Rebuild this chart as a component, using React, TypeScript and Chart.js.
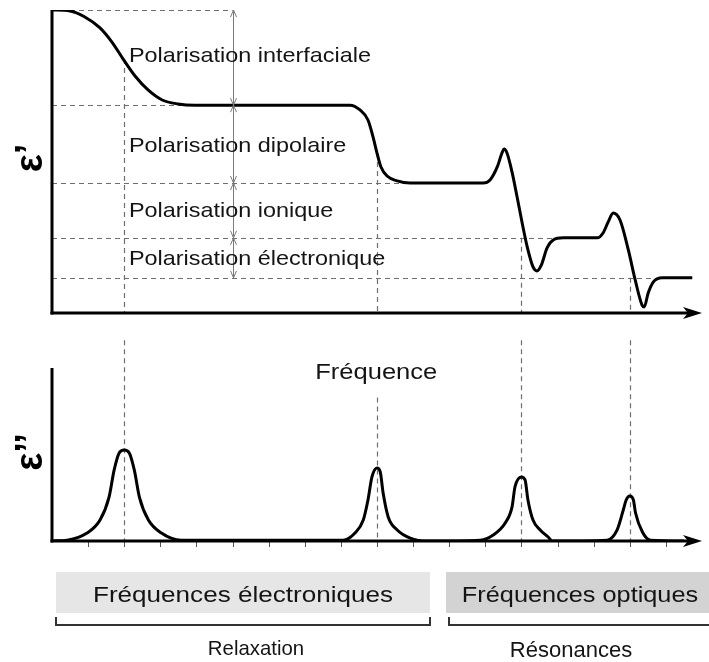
import { useEffect, useRef } from "react";
import { Chart, registerables } from "chart.js";

Chart.register(...registerables);

// ---------- data ----------
const X_MIN = 0;
const X_MAX = 18;

// ε' (real permittivity) curve
const realX = [0, 0.5, 0.91, 1.33, 1.66, 1.97, 2.3, 2.66, 3.05, 3.49, 3.96, 8.25, 8.53, 8.75, 8.89, 9.0, 9.11, 9.28, 9.56, 9.92, 11.94, 12.13, 12.33, 12.47, 12.52, 12.6, 12.74, 12.88, 13.02, 13.16, 13.32, 13.43, 13.55, 13.71, 13.88, 14.16, 15.1, 15.26, 15.4, 15.54, 15.73, 15.96, 16.15, 16.34, 16.4, 16.51, 16.65, 16.9, 17.73];
const realY = [10, 9.97, 9.77, 9.41, 8.94, 8.38, 7.82, 7.36, 7.03, 6.9, 6.86, 6.86, 6.7, 6.37, 5.81, 5.28, 4.82, 4.52, 4.36, 4.29, 4.29, 4.39, 4.82, 5.31, 5.41, 5.28, 4.65, 3.83, 2.97, 2.18, 1.52, 1.39, 1.58, 2.15, 2.41, 2.48, 2.48, 2.64, 3.0, 3.3, 3.07, 2.08, 1.09, 0.26, 0.2, 0.66, 1.02, 1.16, 1.16];

// ε'' (loss) curve
const lossX = [0, 0.42, 0.97, 1.33, 1.58, 1.72, 1.86, 2.0, 2.14, 2.28, 2.42, 2.67, 3.03, 3.58, 8.06, 8.39, 8.62, 8.75, 8.86, 9.0, 9.09, 9.17, 9.31, 9.56, 9.92, 10.39, 11.86, 12.22, 12.55, 12.74, 12.82, 13.0, 13.1, 13.18, 13.32, 13.52, 13.74, 13.85, 15.37, 15.65, 15.82, 15.9, 16.0, 16.1, 16.16, 16.35, 16.57, 17.5];
const lossY = [0, 0.05, 0.46, 1.21, 2.54, 4.1, 5.09, 5.26, 5.09, 4.1, 2.54, 1.21, 0.46, 0.05, 0.05, 0.46, 1.21, 2.37, 3.7, 4.22, 3.99, 2.77, 1.39, 0.64, 0.17, 0, 0.05, 0.35, 1.04, 1.97, 3.12, 3.7, 3.53, 2.37, 1.21, 0.64, 0.23, 0, 0.05, 0.64, 1.79, 2.37, 2.6, 2.37, 1.62, 0.52, 0.05, 0];

// plateau levels of ε' and where their dashed guides end
const levelValues = [10, 6.86, 4.29, 2.48, 1.16];
const levelEnds = [5, 3.6, 9.8, 14.0, 16.8];

// characteristic frequencies (vertical dashed guides)
const markerX = [2, 9, 13, 16];
const markerTopReal = [8.38, 5.28, 2.48, 1.16];
const markerTopLoss = [11.6, 8.3, 11.6, 11.6];

const arrowX = 5;
const polarLabels = ["Polarisation interfaciale", "Polarisation dipolaire", "Polarisation ionique", "Polarisation électronique"];
const polarLabelY = [8.28, 5.31, 3.17, 1.58];
const polarLabelX = 2.13;

const tickValues = [1, 2, 3, 4, 5, 6, 7, 8, 9, 10, 11, 12, 13, 14, 15, 16, 17];
const freqLabel = "Fréquence";
const bandLabels = ["Fréquences électroniques", "Fréquences optiques"];
const groupLabels = ["Relaxation", "Résonances"];
const axisLabels = ["ε’", "ε’’"];

// ---------- helpers ----------
const FONT = '"Liberation Sans", Arial, Helvetica, sans-serif';
const DASH = "#6e6e6e";
const TEXT = "#141414";

function seg(ctx: CanvasRenderingContext2D, x1: number, y1: number, x2: number, y2: number) {
  ctx.beginPath();
  ctx.moveTo(x1, y1);
  ctx.lineTo(x2, y2);
  ctx.stroke();
}

function text(ctx: CanvasRenderingContext2D, s: string, x: number, y: number, size: number, sx: number, align: "left" | "center") {
  ctx.save();
  ctx.font = `${size}px ${FONT}`;
  ctx.fillStyle = TEXT;
  ctx.textAlign = "left";
  ctx.textBaseline = "alphabetic";
  const w = ctx.measureText(s).width * sx;
  const left = align === "center" ? x - w / 2 : x;
  ctx.translate(left, y);
  ctx.scale(sx, 1);
  ctx.fillText(s, 0, 0);
  ctx.restore();
}

function rotLabel(ctx: CanvasRenderingContext2D, s: string, baselineX: number, cy: number) {
  ctx.save();
  ctx.font = `bold 38px ${FONT}`;
  ctx.fillStyle = "#000";
  ctx.textAlign = "center";
  ctx.textBaseline = "alphabetic";
  ctx.translate(baselineX, cy);
  ctx.rotate(-Math.PI / 2);
  ctx.fillText(s, 0, 0);
  ctx.restore();
}

function axes(chart: any) {
  const { ctx, scales } = chart;
  const x = scales.x;
  const y = scales.y;
  const x0 = x.getPixelForValue(X_MIN);
  const y0 = y.getPixelForValue(0);
  const yTop = y.getPixelForValue(10);
  const tip = x.getPixelForValue(X_MAX);
  ctx.save();
  ctx.strokeStyle = "#000";
  ctx.fillStyle = "#000";
  ctx.lineWidth = 3;
  seg(ctx, x0, yTop, x0, y0 + 1.5);
  seg(ctx, x0 - 1.5, y0, tip - 12, y0);
  ctx.beginPath();
  ctx.moveTo(tip, y0);
  ctx.lineTo(tip - 19, y0 - 6);
  ctx.lineTo(tip - 14, y0);
  ctx.lineTo(tip - 19, y0 + 6);
  ctx.closePath();
  ctx.fill();
  ctx.restore();
}

const topDecor = {
  id: "topDecor",
  beforeDatasetsDraw(chart: any) {
    const { ctx, scales } = chart;
    const x = scales.x;
    const y = scales.y;
    ctx.save();
    ctx.strokeStyle = DASH;
    ctx.lineWidth = 1.2;
    ctx.setLineDash([5, 4]);
    levelValues.forEach((v, i) => {
      const py = Math.round(y.getPixelForValue(v)) + 0.5;
      seg(ctx, x.getPixelForValue(0), py, x.getPixelForValue(levelEnds[i]), py);
    });
    markerX.forEach((m, i) => {
      const px = Math.round(x.getPixelForValue(m)) + 0.5;
      seg(ctx, px, y.getPixelForValue(markerTopReal[i]), px, y.getPixelForValue(0));
    });
    ctx.restore();
  },
  afterDatasetsDraw(chart: any) {
    const { ctx, scales } = chart;
    const x = scales.x;
    const y = scales.y;
    // double-headed arrows between plateaus
    ctx.save();
    ctx.strokeStyle = "#7a7a7a";
    ctx.lineWidth = 1;
    const ax = Math.round(x.getPixelForValue(arrowX)) + 0.5;
    for (let i = 0; i < levelValues.length - 1; i++) {
      const y1 = y.getPixelForValue(levelValues[i]);
      const y2 = y.getPixelForValue(levelValues[i + 1]);
      seg(ctx, ax, y1, ax, y2);
      ctx.beginPath();
      ctx.moveTo(ax - 3, y1 + 7);
      ctx.lineTo(ax, y1);
      ctx.lineTo(ax + 3, y1 + 7);
      ctx.stroke();
      ctx.beginPath();
      ctx.moveTo(ax - 3, y2 - 7);
      ctx.lineTo(ax, y2);
      ctx.lineTo(ax + 3, y2 - 7);
      ctx.stroke();
    }
    ctx.restore();
    axes(chart);
    polarLabels.forEach((s, i) => {
      text(ctx, s, x.getPixelForValue(polarLabelX), y.getPixelForValue(polarLabelY[i]), 21, 1.115, "left");
    });
    rotLabel(ctx, axisLabels[0], 42, 158);
  },
};

const bottomDecor = {
  id: "bottomDecor",
  beforeDatasetsDraw(chart: any) {
    const { ctx, scales } = chart;
    const x = scales.x;
    const y = scales.y;
    ctx.save();
    ctx.strokeStyle = DASH;
    ctx.lineWidth = 1.2;
    ctx.setLineDash([5, 4]);
    markerX.forEach((m, i) => {
      const px = Math.round(x.getPixelForValue(m)) + 0.5;
      seg(ctx, px, y.getPixelForValue(markerTopLoss[i]), px, y.getPixelForValue(0));
    });
    ctx.restore();
  },
  afterDatasetsDraw(chart: any) {
    const { ctx, scales } = chart;
    const x = scales.x;
    const y = scales.y;
    const y0 = y.getPixelForValue(0);
    // small ticks
    ctx.save();
    ctx.strokeStyle = "#555";
    ctx.lineWidth = 1;
    tickValues.forEach((t) => {
      const px = Math.round(x.getPixelForValue(t)) + 0.5;
      seg(ctx, px, y0, px, y0 + 6);
    });
    ctx.restore();
    axes(chart);
    text(ctx, freqLabel, x.getPixelForValue(7.29), y.getPixelForValue(9.36), 22, 1.16, "left");
    rotLabel(ctx, axisLabels[1], 42, 122);

    // frequency bands (canvas starts at page y = 330)
    const off = 330;
    ctx.save();
    ctx.fillStyle = "#e6e6e6";
    ctx.fillRect(56, 572 - off, 374, 41);
    ctx.fillStyle = "#d3d3d3";
    ctx.fillRect(446, 572 - off, 263, 41);
    ctx.strokeStyle = "#333";
    ctx.lineWidth = 2;
    ctx.beginPath();
    ctx.moveTo(56, 617 - off);
    ctx.lineTo(56, 625 - off);
    ctx.lineTo(430, 625 - off);
    ctx.lineTo(430, 617 - off);
    ctx.stroke();
    ctx.beginPath();
    ctx.moveTo(449, 617 - off);
    ctx.lineTo(449, 625 - off);
    ctx.lineTo(709, 625 - off);
    ctx.stroke();
    ctx.restore();
    text(ctx, bandLabels[0], 243, 602 - off, 22, 1.185, "center");
    text(ctx, bandLabels[1], 580, 602 - off, 22, 1.15, "center");
    text(ctx, groupLabels[0], 256, 655 - off, 21, 0.97, "center");
    text(ctx, groupLabels[1], 571, 657 - off, 22, 1.0, "center");
  },
};

function makeConfig(xs: number[], ys: number[], padTop: number, padBottom: number, plugin: any) {
  return {
    type: "line" as const,
    data: {
      datasets: [
        {
          data: xs.map((v, i) => ({ x: v, y: ys[i] })),
          borderColor: "#000",
          borderWidth: 3,
          pointRadius: 0,
          fill: false,
          cubicInterpolationMode: "monotone" as const,
        },
      ],
    },
    options: {
      responsive: false,
      animation: false as const,
      devicePixelRatio: 1,
      layout: { padding: { left: 52, right: 7, top: padTop, bottom: padBottom } },
      plugins: { legend: { display: false }, tooltip: { enabled: false } },
      scales: {
        x: { type: "linear" as const, min: X_MIN, max: X_MAX, display: false },
        y: { type: "linear" as const, min: 0, max: 10, display: false },
      },
    },
    plugins: [plugin],
  };
}

export default function App() {
  const topRef = useRef<HTMLCanvasElement>(null);
  const botRef = useRef<HTMLCanvasElement>(null);

  useEffect(() => {
    const top = new Chart(topRef.current as HTMLCanvasElement, makeConfig(realX, realY, 10, 17, topDecor) as any);
    const bot = new Chart(botRef.current as HTMLCanvasElement, makeConfig(lossX, lossY, 38, 121, bottomDecor) as any);
    return () => {
      top.destroy();
      bot.destroy();
    };
  }, []);

  return (
    <div style={{ position: "absolute", left: 0, top: 0, width: 709, height: 662, background: "#fff", overflow: "hidden" }}>
      <canvas ref={topRef} width={709} height={330} style={{ position: "absolute", left: 0, top: 0 }} />
      <canvas ref={botRef} width={709} height={332} style={{ position: "absolute", left: 0, top: 330 }} />
    </div>
  );
}
